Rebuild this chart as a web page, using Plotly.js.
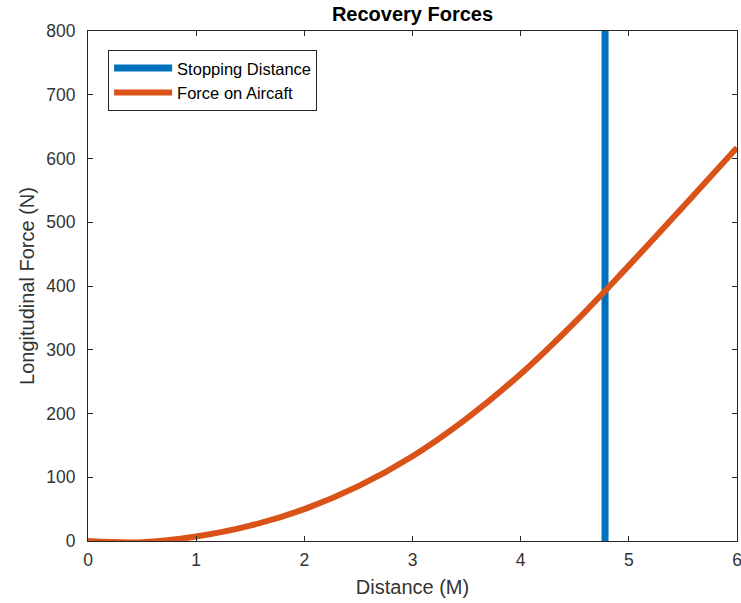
<!DOCTYPE html>
<html><head><meta charset="utf-8">
<script src="https://cdn.plot.ly/plotly-3.0.1.min.js"></script>
<style>html,body{margin:0;padding:0;background:#fff}#c{width:741px;height:603px}</style>
</head><body><div id="c"></div>
<script>
const stopX = [4.78, 4.78];
const stopY = [0, 800];
const distance = [0, 0.5, 1, 1.5, 2, 2.5, 3, 3.5, 4, 4.5, 5, 5.5, 6];
const force = [0, -2, 7, 24, 50, 86, 133, 192, 262, 343, 432, 524, 617];
const fontFam = 'Liberation Sans, Arial, sans-serif';
const traces = [
  {x: stopX, y: stopY, mode: 'lines', name: 'Stopping Distance', line: {color: '#0072BD', width: 7}},
  {x: distance, y: force, mode: 'lines', name: 'Force on Aircaft', line: {color: '#D95319', width: 6, shape: 'spline'}}
];
const axisCommon = {
  showgrid: false, zeroline: false, showline: true, linecolor: '#262626', linewidth: 1,
  mirror: 'ticks', ticks: 'inside', ticklen: 5, tickcolor: '#262626',
  ticklabeloverflow: 'allow',
  tickfont: {family: fontFam, size: 17.5, color: '#333'}
};
const layout = {
  width: 741, height: 603,
  margin: {l: 88, r: 4, t: 31, b: 62},
  paper_bgcolor: '#fff', plot_bgcolor: '#fff',
  title: {text: '<b>Recovery Forces</b>', font: {family: fontFam, size: 20, color: '#000'}, xref: 'paper', x: 0.5, xanchor: 'center', y: 0.988, yanchor: 'top'},
  xaxis: Object.assign({}, axisCommon, {range: [0, 6], dtick: 1, ticklabelstandoff: 3,
    title: {text: 'Distance (M)', font: {family: fontFam, size: 20, color: '#333'}, standoff: 10}}),
  yaxis: Object.assign({}, axisCommon, {range: [0, 800], dtick: 100, ticklabelstandoff: 8,
    title: {text: 'Longitudinal Force (N)', font: {family: fontFam, size: 20, color: '#333'}, standoff: 6}}),
  showlegend: true,
  legend: {x: 0.031, y: 0.963, xanchor: 'left', yanchor: 'top', bgcolor: '#fff', bordercolor: '#262626', borderwidth: 1,
    font: {family: fontFam, size: 16.5, color: '#000'}, tracegroupgap: 0, itemwidth: 58}
};
Plotly.newPlot('c', traces, layout, {displayModeBar: false, staticPlot: true});
</script></body></html>
